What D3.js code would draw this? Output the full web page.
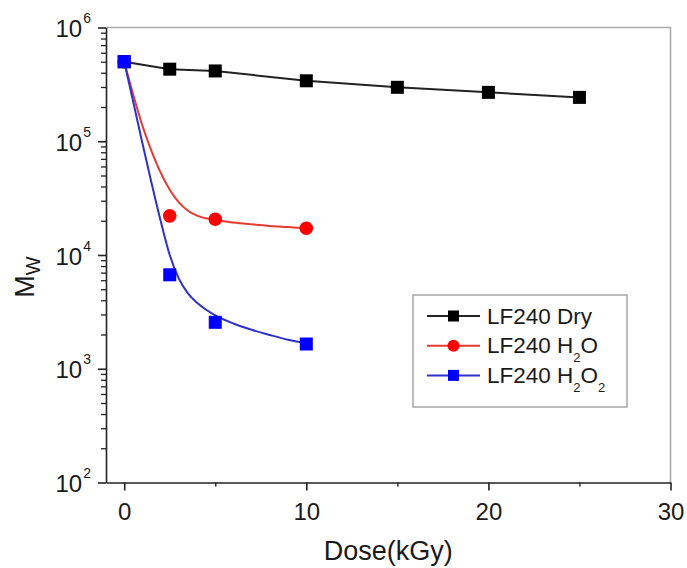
<!DOCTYPE html>
<html>
<head>
<meta charset="utf-8">
<script src="https://cdn.jsdelivr.net/npm/d3@7"></script>
<style>
  html, body { margin: 0; padding: 0; background: #fff; }
  svg { display: block; }
  text { font-family: "Liberation Sans", Arial, sans-serif; fill: #1a1a1a; }
</style>
</head>
<body>
<svg id="chart" width="687" height="568"></svg>
<script>
// ---- data ----
const dryDose = [0, 2.5, 5, 10, 15, 20, 25];
const dryMw   = [5.0e5, 4.3e5, 4.15e5, 3.4e5, 2.98e5, 2.69e5, 2.43e5];

const h2oDose = [0, 2.5, 5, 10];
const h2oMw   = [5.0e5, 2.21e4, 2.06e4, 1.72e4];

const h2o2Dose = [0, 2.5, 5, 10];
const h2o2Mw   = [5.0e5, 6.7e3, 2.56e3, 1.65e3];

// fitted curves as drawn in the reference (sampled by eye)
const h2oFitDose = [0, 0.5, 1, 1.5, 2, 2.5, 3, 3.5, 4, 5, 6, 7, 8, 9, 10];
const h2oFitMw   = [5.0e5, 2.55e5, 1.37e5, 8.2e4, 5.3e4, 3.75e4, 2.9e4, 2.45e4, 2.22e4, 2.03e4, 1.93e4, 1.86e4, 1.8e4, 1.76e4, 1.72e4];

const h2o2FitDose = [0, 0.5, 1, 1.5, 2, 2.5, 3, 3.5, 4, 4.5, 5, 6, 7, 8, 9, 10];
const h2o2FitMw   = [5.0e5, 2.2e5, 9.6e4, 4.3e4, 2.0e4, 1.0e4, 6.2e3, 4.6e3, 3.8e3, 3.3e3, 2.95e3, 2.5e3, 2.2e3, 1.98e3, 1.8e3, 1.68e3];

const xTicks = [0, 10, 20, 30];
const xMinorTicks = [5, 15, 25];
const yExponents = [2, 3, 4, 5, 6];
const legendLabels = [
  {base: "LF240 Dry", sub: []},
  {base: "LF240 H", sub: ["2", "O"]},
  {base: "LF240 H", sub: ["2", "O", "2"]}
];

// ---- layout ----
const svg = d3.select("#chart");
const L = 106, R = 670.5, T = 27.5, B = 482.5;

const x = d3.scaleLinear().domain([-1, 30]).range([L, R]);
const y = d3.scaleLog().domain([1e2, 1e6]).range([B, T]);

// frame (top + right, gray)
svg.append("path")
  .attr("d", `M${L},${T}H${R}V${B}`)
  .attr("fill", "none").attr("stroke", "#aaaaaa").attr("stroke-width", 1.6);

// x axis
const xAxis = svg.append("g").attr("transform", `translate(0,${B})`)
  .call(d3.axisBottom(x).tickValues(xTicks).tickSize(8).tickSizeOuter(0).tickPadding(12));
xAxis.select(".domain").attr("stroke", "#222").attr("stroke-width", 1.6);
xAxis.selectAll(".tick line").attr("stroke", "#222").attr("stroke-width", 1.6);
xAxis.selectAll(".tick text").attr("font-size", 24).attr("fill", "#1a1a1a")
  .style("font-family", "'Liberation Sans', Arial, sans-serif");

const xMinor = svg.append("g").attr("transform", `translate(0,${B})`)
  .call(d3.axisBottom(x).tickValues(xMinorTicks).tickSize(4).tickSizeOuter(0).tickFormat(""));
xMinor.select(".domain").remove();
xMinor.selectAll(".tick line").attr("stroke", "#222").attr("stroke-width", 1.4);

// y axis
const yMajorVals = yExponents.map(e => Math.pow(10, e));
const yMinorVals = [];
yExponents.slice(0, -1).forEach(e => { for (let k = 2; k <= 9; k++) yMinorVals.push(k * Math.pow(10, e)); });

const yAxis = svg.append("g").attr("transform", `translate(${L},0)`)
  .call(d3.axisLeft(y).tickValues(yMajorVals).tickSize(8).tickSizeOuter(0).tickFormat(""));
yAxis.select(".domain").attr("stroke", "#222").attr("stroke-width", 1.6);
yAxis.selectAll(".tick line").attr("stroke", "#222").attr("stroke-width", 1.6);

const yMinor = svg.append("g").attr("transform", `translate(${L},0)`)
  .call(d3.axisLeft(y).tickValues(yMinorVals).tickSize(5).tickSizeOuter(0).tickFormat(""));
yMinor.select(".domain").remove();
yMinor.selectAll(".tick line").attr("stroke", "#222").attr("stroke-width", 1.3);

// y tick labels 10^n
yExponents.forEach(e => {
  const t = svg.append("text")
    .attr("x", 91).attr("y", y(Math.pow(10, e)) + 9.5)
    .attr("text-anchor", "end").attr("font-size", 24);
  t.append("tspan").text("10");
  t.append("tspan").attr("dy", -14).attr("dx", 1).attr("font-size", 14).text(String(e));
});

// axis titles
svg.append("text")
  .attr("x", (L + R) / 2).attr("y", 560)
  .attr("text-anchor", "middle").attr("font-size", 27)
  .text("Dose(kGy)");

const yt = svg.append("text")
  .attr("transform", "translate(34,277) rotate(-90)")
  .attr("text-anchor", "middle").attr("font-size", 27);
yt.append("tspan").text("M");
yt.append("tspan").attr("dy", 6).attr("font-size", 20).text("W");

// ---- series ----
const line = d3.line().x(d => x(d[0])).y(d => y(d[1]));
const smooth = d3.line().x(d => x(d[0])).y(d => y(d[1])).curve(d3.curveMonotoneX);

const zip = (a, b) => a.map((v, i) => [v, b[i]]);

const colors = {
  dryLine: "#222222", dryMark: "#000000",
  h2oLine: "#e53a30", h2oMark: "#ff0000",
  h2o2Line: "#3030cc", h2o2Mark: "#0000ff"
};

function squares(data, color, size) {
  svg.append("g").selectAll("rect").data(data).join("rect")
    .attr("x", d => x(d[0]) - size / 2).attr("y", d => y(d[1]) - size / 2)
    .attr("width", size).attr("height", size).attr("fill", color);
}
function circles(data, color, r) {
  svg.append("g").selectAll("circle").data(data).join("circle")
    .attr("cx", d => x(d[0])).attr("cy", d => y(d[1])).attr("r", r).attr("fill", color);
}

// H2O (red)
svg.append("path").datum(zip(h2oFitDose, h2oFitMw)).attr("d", smooth)
  .attr("fill", "none").attr("stroke", colors.h2oLine).attr("stroke-width", 2);
circles(zip(h2oDose, h2oMw), colors.h2oMark, 6.8);

// Dry (black)
svg.append("path").datum(zip(dryDose, dryMw)).attr("d", line)
  .attr("fill", "none").attr("stroke", colors.dryLine).attr("stroke-width", 2);
squares(zip(dryDose, dryMw), colors.dryMark, 13);

// H2O2 (blue)
svg.append("path").datum(zip(h2o2FitDose, h2o2FitMw)).attr("d", smooth)
  .attr("fill", "none").attr("stroke", colors.h2o2Line).attr("stroke-width", 2);
squares(zip(h2o2Dose, h2o2Mw), colors.h2o2Mark, 13);

// ---- legend ----
const lg = svg.append("g");
lg.append("rect").attr("x", 413).attr("y", 295).attr("width", 214).attr("height", 112)
  .attr("fill", "#fff").attr("stroke", "#999").attr("stroke-width", 1.3);

const legendRows = [
  {line: colors.dryLine, mark: colors.dryMark, shape: "square"},
  {line: colors.h2oLine, mark: colors.h2oMark, shape: "circle"},
  {line: colors.h2o2Line, mark: colors.h2o2Mark, shape: "square"}
];
legendRows.forEach((r, i) => {
  const cy = 316 + i * 29.7;
  lg.append("line").attr("x1", 427).attr("x2", 480).attr("y1", cy).attr("y2", cy)
    .attr("stroke", r.line).attr("stroke-width", 2);
  if (r.shape === "square") {
    lg.append("rect").attr("x", 453.5 - 5.5).attr("y", cy - 5.5).attr("width", 11).attr("height", 11).attr("fill", r.mark);
  } else {
    lg.append("circle").attr("cx", 453.5).attr("cy", cy).attr("r", 6).attr("fill", r.mark);
  }
  const lab = legendLabels[i];
  const t = lg.append("text").attr("x", 487).attr("y", cy + 7.5).attr("font-size", 22.5);
  t.append("tspan").text(lab.base);
  lab.sub.forEach(s => {
    if (s === "2") t.append("tspan").attr("dy", 9).attr("font-size", 13).text(s);
    else t.append("tspan").attr("dy", -9).text(s);
  });
});
</script>
</body>
</html>
